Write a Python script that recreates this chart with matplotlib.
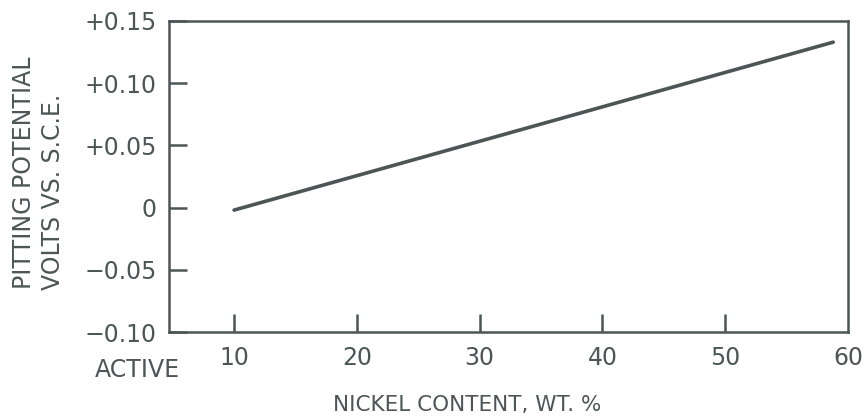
import numpy as np
import matplotlib.pyplot as plt

# pitting potential vs nickel content
nickel_pct = [10, 58.8]
potential_v = [-0.002, 0.133]

x_ticks = [10, 20, 30, 40, 50, 60]
y_ticks = [-0.10, -0.05, 0, 0.05, 0.10, 0.15]
y_tick_labels = ["\u22120.10", "\u22120.05", "0", "+0.05", "+0.10", "+0.15"]

INK = "#4d5557"

plt.rcParams["font.family"] = ["DejaVu Sans"]

fig = plt.figure(figsize=(8.66, 4.19), dpi=100)
ax = fig.add_axes([169 / 866, 1 - 332 / 419, (848 - 169) / 866, (332 - 21) / 419])

ax.plot(nickel_pct, potential_v, color=INK, linewidth=2.6, solid_capstyle="round")

ax.set_xlim(4.7, 60)
ax.set_ylim(-0.10, 0.15)

ax.set_xticks(x_ticks)
ax.set_yticks(y_ticks)
ax.set_yticklabels(y_tick_labels)

for side in ax.spines.values():
    side.set_color(INK)
    side.set_linewidth(1.8)

ax.tick_params(axis="both", direction="in", length=13, width=1.8, color=INK,
               labelcolor=INK, labelsize=17)
ax.tick_params(axis="y", pad=9)
ax.tick_params(axis="x", pad=10)
# the 60 label sits on the right spine, no tick mark there
ax.xaxis.get_major_ticks()[-1].tick1line.set_visible(False)

fig.text(137 / 866, 1 - 370 / 419, "ACTIVE", ha="center", va="center",
         color=INK, fontsize=17)
fig.text(467 / 866, 1 - 405 / 419, "NICKEL CONTENT, WT. %", ha="center",
         va="center", color=INK, fontsize=15.5)
fig.text(24 / 866, 1 - 173 / 419, "PITTING POTENTIAL", rotation=90,
         ha="center", va="center", color=INK, fontsize=17)
fig.text(53 / 866, 1 - 192 / 419, "VOLTS VS. S.C.E.", rotation=90,
         ha="center", va="center", color=INK, fontsize=17)

fig.savefig("out.png", dpi=100)
